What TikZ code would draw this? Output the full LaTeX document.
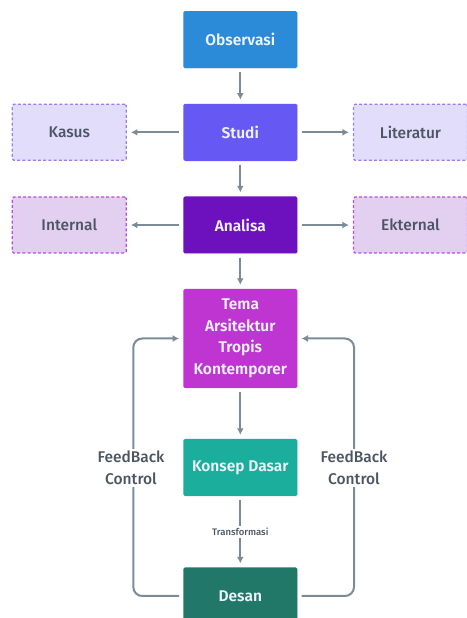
\documentclass[tikz,border=0pt]{standalone}
\usepackage{fontspec}
\setmainfont{Fira Sans}[BoldFont={Fira Sans SemiBold}]
\newfontfamily\medfont{Fira Sans Medium}
\usetikzlibrary{arrows.meta,shadows}

\definecolor{obsblue}{HTML}{2C8BD9}
\definecolor{studiviolet}{HTML}{6658F2}
\definecolor{analisapurple}{HTML}{6D11BE}
\definecolor{temamagenta}{HTML}{BF35D1}
\definecolor{konsepteal}{HTML}{1BAE9D}
\definecolor{desangreen}{HTML}{217868}
\definecolor{lilacfill}{HTML}{E1DDFB}
\definecolor{lilacline}{HTML}{9D7EEF}
\definecolor{mauvefill}{HTML}{E3CFF0}
\definecolor{mauveline}{HTML}{B350DD}
\definecolor{linegray}{HTML}{7B8B98}
\definecolor{labelgray}{HTML}{4B5563}
\definecolor{boxtext}{HTML}{EEF3FA}

\tikzset{
  box/.style={rectangle, rounded corners=1.5pt, minimum width=114pt, minimum height=57pt,
    text=boxtext, align=center, font=\fontsize{15.5}{21.5}\selectfont\bfseries,
    drop shadow={opacity=0.12, shadow xshift=0.6pt, shadow yshift=-1pt}},
  sidebox/.style={rectangle, rounded corners=1.5pt, minimum width=114pt, minimum height=56pt,
    text=labelgray, font=\fontsize{15.5}{18}\medfont, line width=1.3pt,
    dash pattern=on 3pt off 2.2pt},
  flow/.style={draw=linegray, line width=2pt, -{Latex[length=6.5pt,width=7pt]},
    shorten >=4pt, shorten <=4pt},
  tag/.style={fill=white, text=labelgray, align=center, inner sep=2pt}
}

\begin{document}
\begin{tikzpicture}[x=1pt,y=1pt]
    \useasboundingbox[fill=white] (0,0) rectangle (466,618);

    % main column
    \node[box, fill=obsblue] (obs) at (240.3,578.3) {Observasi};
    \node[box, fill=studiviolet] (studi) at (240.3,485.7) {Studi};
    \node[box, fill=analisapurple] (analisa) at (240.3,393) {Analisa};
    \node[box, fill=temamagenta, minimum height=99pt] (tema) at (240.3,279.5)
        {Tema\\Arsitektur\\Tropis\\Kontemporer};
    \node[box, fill=konsepteal] (konsep) at (240.3,150.5) {Konsep Dasar};
    \node[box, fill=desangreen] (desan) at (240.3,22) {Desan};

    % side boxes
    \node[sidebox, fill=lilacfill, draw=lilacline] (kasus) at (69.3,485.7) {Kasus};
    \node[sidebox, fill=lilacfill, draw=lilacline] (literatur) at (410.5,485.7) {Literatur};
    \node[sidebox, fill=mauvefill, draw=mauveline] (internal) at (69.3,393) {Internal};
    \node[sidebox, fill=mauvefill, draw=mauveline] (ekternal) at (410.5,393) {Ekternal};

    % down the column
    \draw[flow] (obs) -- (studi);
    \draw[flow] (studi) -- (analisa);
    \draw[flow] (analisa) -- (tema);
    \draw[flow] (tema) -- (konsep);
    \draw[flow] (konsep) -- node[tag, font=\fontsize{9.5}{11}\medfont] {Transformasi} (desan);

    % sideways
    \draw[flow] (studi) -- (kasus);
    \draw[flow] (studi) -- (literatur);
    \draw[flow] (analisa) -- (internal);
    \draw[flow] (analisa) -- (ekternal);

    % feedback loops
    \coordinate (fbleft) at (133.3,279.5);
    \coordinate (fbright) at (354,279.5);
    \draw[flow, rounded corners=9pt] (desan.west) -| (fbleft) -- (tema.west);
    \draw[flow, rounded corners=9pt] (desan.east) -| (fbright) -- (tema.east);
    \node[tag, font=\fontsize{15.5}{21.5}\medfont] (fbltext) at (131,150) {FeedBack\\Control};
    \node[tag, font=\fontsize{15.5}{21.5}\medfont] (fbrtext) at (354,150) {FeedBack\\Control};
\end{tikzpicture}
\end{document}
